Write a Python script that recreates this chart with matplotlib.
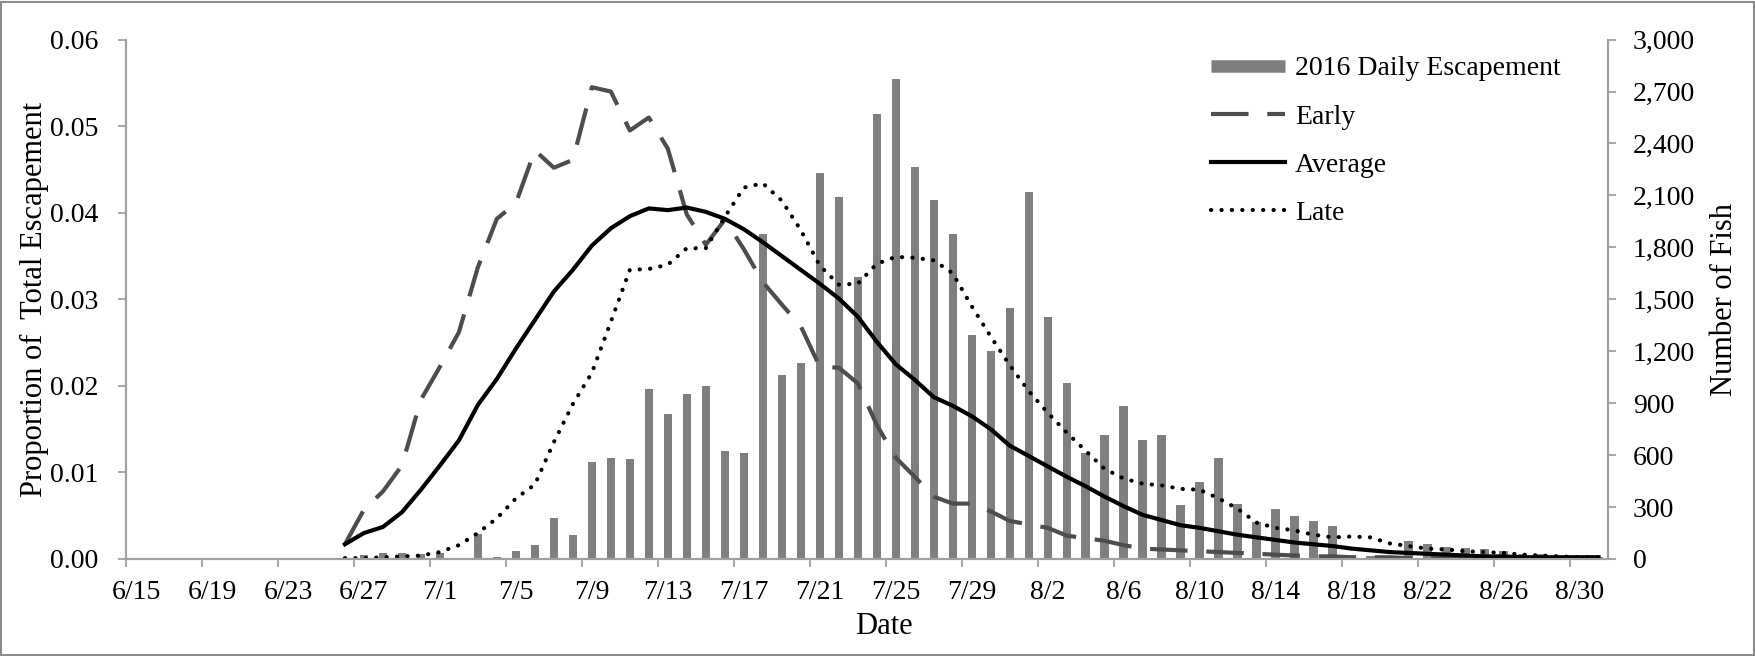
import matplotlib
matplotlib.use("Agg")
import matplotlib.pyplot as plt
from matplotlib.lines import Line2D
from matplotlib.patches import Rectangle
import matplotlib.ticker as mticker
import numpy as np
import pandas as pd

plt.rcParams['font.family'] = ['Liberation Serif', 'DejaVu Serif']

# ---- data -------------------------------------------------------------
dates = pd.date_range("2016-06-15", "2016-08-31", freq="D")
date_labels = [f"{d.month}/{d.day}" for d in dates]

escapement_2016 = [
    0, 0, 0, 0, 0, 0, 0, 0, 0, 0,            # 6/15 - 6/24
    5, 8, 25, 35, 35, 30,                    # 6/25 - 6/30
    35, 6, 145, 12, 44, 80, 237, 140, 560, 586,          # 7/1 - 7/10
    578, 981, 836, 954, 1001, 624, 615, 1877, 1063, 1132,  # 7/11 - 7/20
    2228, 2088, 1628, 2571, 2773, 2265, 2071, 1879, 1293, 1204,  # 7/21 - 7/30
    1450,                                    # 7/31
    2117, 1400, 1018, 615, 719, 884, 688, 719, 314, 446,  # 8/1 - 8/10
    586, 320, 213, 291, 250, 220, 190, 15, 20, 10,        # 8/11 - 8/20
    102, 84, 69, 63, 55, 49, 29, 27, 20, 14, 14,          # 8/21 - 8/31
]

nan = np.nan
early = [nan] * 11 + [
    0.0017, 0.0057, 0.0078, 0.0108, 0.0184,                       # 6/26 - 6/30
    0.0222, 0.0262, 0.0337, 0.0393, 0.0411, 0.0472, 0.0452, 0.0461, 0.0545, 0.0540,
    0.0495, 0.0510, 0.0474, 0.0398, 0.0363, 0.0392, 0.0358, 0.0320, 0.0294, 0.0269,
    0.0222, 0.0221, 0.0203, 0.0155, 0.0117, 0.0095, 0.0072, 0.0064, 0.0064, 0.0055,
    0.0044,
    0.0040, 0.0036, 0.0027, 0.0024, 0.0021, 0.0016, 0.0012, 0.0011, 0.0010, 0.0009,
    0.0008, 0.0007, 0.0006, 0.0005, 0.0004, 0.0003, 0.0003, 0.0002, 0.0002, 0.0002,
    0.0001, 0.0001, 0.0001, 0.0001, 0.0001, 0.0001, 0.0001, 0.0001, 0.0001, 0.0001, 0.0001,
]

average = [nan] * 11 + [
    0.0017, 0.0030, 0.0037, 0.0054, 0.0080,
    0.0108, 0.0137, 0.0178, 0.0208, 0.0243, 0.0276, 0.0309, 0.0334, 0.0362, 0.0382,
    0.0396, 0.0405, 0.0403, 0.0406, 0.0401, 0.0393, 0.0381, 0.0366, 0.0350, 0.0334,
    0.0318, 0.0301, 0.0280, 0.0251, 0.0225, 0.0207, 0.0187, 0.0177, 0.0165, 0.0150,
    0.0131,
    0.0119, 0.0107, 0.0095, 0.0084, 0.0072, 0.0061, 0.0051, 0.0045, 0.0039, 0.0036,
    0.0032, 0.0028, 0.0025, 0.0022, 0.0019, 0.0017, 0.0015, 0.0012, 0.0010, 0.0008,
    0.0007, 0.0006, 0.0005, 0.0004, 0.0003, 0.0003, 0.0002, 0.0002, 0.0002, 0.0002, 0.0002,
]

late = [nan] * 11 + [
    0.0001, 0.0001, 0.0002, 0.0003, 0.0004,
    0.0008, 0.0016, 0.0030, 0.0047, 0.0070, 0.0086, 0.0135, 0.0179, 0.0215, 0.0274,
    0.0334, 0.0335, 0.0340, 0.0359, 0.0359, 0.0395, 0.0429, 0.0434, 0.0414, 0.0380,
    0.0339, 0.0317, 0.0318, 0.0341, 0.0349, 0.0348, 0.0345, 0.0330, 0.0292, 0.0257,
    0.0224,
    0.0194, 0.0169, 0.0146, 0.0125, 0.0104, 0.0093, 0.0087, 0.0085, 0.0081, 0.0080,
    0.0070, 0.0058, 0.0042, 0.0036, 0.0033, 0.0028, 0.0025, 0.0026, 0.0025, 0.0018,
    0.0015, 0.0012, 0.0011, 0.0009, 0.0008, 0.0007, 0.0005, 0.0004, 0.0003, 0.0002, 0.0002,
]

series_labels = ["2016 Daily Escapement", "Early", "Average", "Late"]
left_ylabel = "Proportion of  Total Escapement"
right_ylabel = "Number of Fish"
x_label = "Date"

# ---- figure -----------------------------------------------------------
W, H, DPI = 1756, 656, 100
fig = plt.figure(figsize=(W / DPI, H / DPI), dpi=DPI)
ax = fig.add_axes([126.5 / W, 1 - 559 / H, (1608 - 126.5) / W, (559 - 39.6) / H])
ax2 = ax.twinx()

x = np.arange(len(dates))
bar_color = "#7f7f7f"
axis_color = "#a0a0a0"
fs = 20        # tick labels / legend
fs_title = 22  # axis titles

ax2.bar(x, escapement_2016, width=0.44, color=bar_color, zorder=1)
ax2.set_ylim(0, 3000)
ax2.set_yticks(np.arange(0, 3001, 300))
ax2.yaxis.set_major_formatter(mticker.FuncFormatter(lambda v, p: f"{int(v):,}"))

ax.set_zorder(ax2.get_zorder() + 1)
ax.patch.set_visible(False)

lw = 3.0
ax.plot(x, early, color="#4d4d4d", lw=lw, linestyle=(0, (9, 4.5)), solid_capstyle="butt",
        dash_capstyle="butt")
ax.plot(x, average, color="black", lw=lw)
ax.plot(x, late, color="black", lw=lw, linestyle=(0, (0.05, 2.45)), dash_capstyle="round")

ax.set_ylim(0, 0.06)
ax.set_yticks(np.arange(0, 0.0601, 0.01))
ax.yaxis.set_major_formatter(mticker.FormatStrFormatter("%.2f"))
ax.set_xlim(-0.5, len(dates) - 0.5)

# x ticks: marks at category boundaries, labels at centres
ax.set_xticks(np.arange(-0.5, len(dates) - 1, 4))
ax.set_xticklabels([])
ax.set_xticks(x[::4], minor=True)
ax.set_xticklabels([date_labels[i] for i in x[::4]], minor=True)
ax.tick_params(axis="x", which="major", length=6, width=1.3, color=axis_color, direction="out")
ax.tick_params(axis="x", which="minor", length=0, pad=15, labelsize=fs)
ax.tick_params(axis="y", length=6, width=1.3, color=axis_color, labelsize=fs, pad=14)
ax2.tick_params(axis="y", length=6, width=1.3, color=axis_color, labelsize=fs, pad=12)
ax2.tick_params(axis="x", length=0)

for a in (ax, ax2):
    for s in a.spines.values():
        s.set_color(axis_color)
        s.set_linewidth(1.5)
    a.spines["top"].set_visible(False)

fig.text(34 / W, 1 - 299 / H, left_ylabel, rotation=90, ha="center", va="center",
         fontsize=fs_title)
fig.text(1725 / W, 1 - 299 / H, right_ylabel, rotation=90, ha="center", va="center",
         fontsize=fs_title)
fig.text(884 / W, 1 - 627 / H, x_label, ha="center", va="center", fontsize=fs_title)

handles = [
    Line2D([], [], color=bar_color, lw=9, solid_capstyle="butt"),
    Line2D([], [], color="#4d4d4d", lw=lw, linestyle=(0, (9, 4.5))),
    Line2D([], [], color="black", lw=lw),
    Line2D([], [], color="black", lw=lw, linestyle=(0, (0.05, 2.45)), dash_capstyle="round"),
]
ax.legend(handles, series_labels, loc="upper left", bbox_to_anchor=(1211 / W, 1 - 56 / H),
          bbox_transform=fig.transFigure, frameon=False, fontsize=fs, handlelength=2.66,
          handletextpad=0.36, labelspacing=0.82, borderaxespad=0, borderpad=0)

fig.add_artist(Rectangle((1.5 / W, 1.5 / H), (W - 3) / W, (H - 3) / H, transform=fig.transFigure,
                         fill=False, edgecolor="#8c8c8c", lw=1.5))

fig.savefig("out.png", dpi=DPI)
